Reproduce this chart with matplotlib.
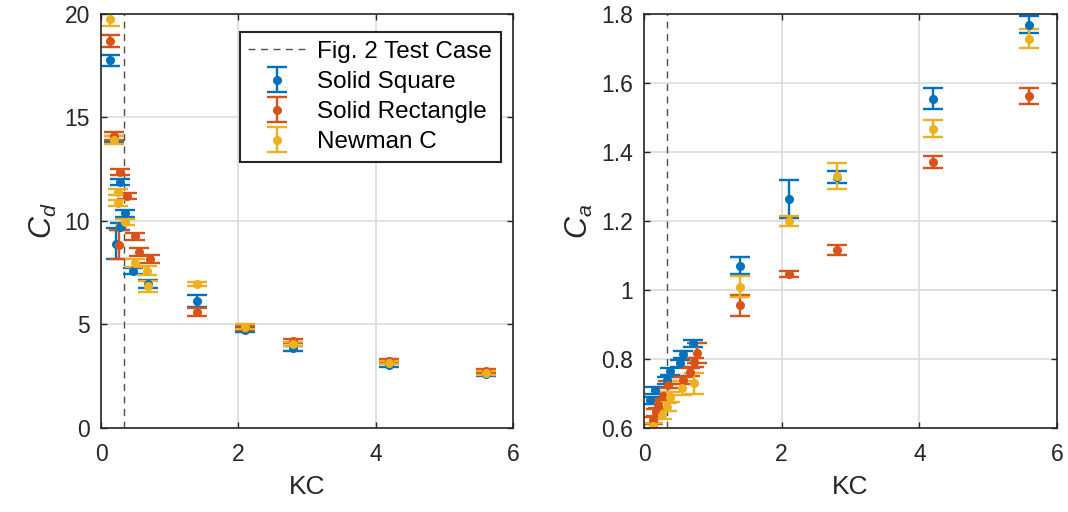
import matplotlib.pyplot as plt
from matplotlib.lines import Line2D

plt.rcParams['font.family'] = ['Liberation Sans', 'DejaVu Sans']
plt.rcParams['mathtext.fontset'] = 'custom'
plt.rcParams['mathtext.rm'] = 'Liberation Sans'
plt.rcParams['mathtext.it'] = 'Liberation Sans:italic'

# series colours (MATLAB defaults)
c_sq = '#0072BD'
c_re = '#D95319'
c_nc = '#EDB120'

test_kc = 0.33

# ---- drag coefficient, Cd ----
kc_sq_cd = [0.13, 0.19, 0.22, 0.28, 0.28, 0.35, 0.47, 0.68, 1.40, 2.10, 2.80, 4.20, 5.60]
cd_sq = [17.75, 13.95, 8.9, 11.87, 9.73, 10.36, 7.6, 6.95, 6.13, 4.75, 3.85, 3.05, 2.6]
cd_sq_err = [0.25, 0.15, 0.75, 0.15, 0.15, 0.15, 0.15, 0.2, 0.27, 0.1, 0.12, 0.08, 0.08]

kc_re_cd = [0.13, 0.19, 0.26, 0.28, 0.38, 0.50, 0.55, 0.71, 1.40, 2.10, 2.80, 4.20, 5.60]
cd_re = [18.69, 14.1, 8.86, 12.36, 11.2, 9.25, 8.5, 8.17, 5.6, 4.85, 4.2, 3.25, 2.75]
cd_re_err = [0.3, 0.2, 0.7, 0.15, 0.15, 0.15, 0.2, 0.2, 0.2, 0.1, 0.1, 0.08, 0.08]

kc_nc_cd = [0.13, 0.19, 0.25, 0.25, 0.35, 0.50, 0.67, 0.68, 1.40, 2.10, 2.80, 4.20, 5.60]
cd_nc = [19.76, 13.9, 11.39, 10.85, 9.93, 7.98, 7.6, 6.85, 6.96, 4.9, 4.05, 3.15, 2.65]
cd_nc_err = [0.34, 0.2, 0.15, 0.15, 0.15, 0.2, 0.2, 0.27, 0.11, 0.1, 0.1, 0.08, 0.08]

# ---- added mass coefficient, Ca ----
kc_sq_ca = [0.09, 0.16, 0.33, 0.38, 0.52, 0.57, 0.71, 1.40, 2.10, 2.80, 4.20, 5.60]
ca_sq = [0.681, 0.71, 0.739, 0.765, 0.788, 0.814, 0.846, 1.07, 1.264, 1.327, 1.554, 1.768]
ca_sq_err = [0.01, 0.01, 0.01, 0.01, 0.01, 0.01, 0.01, 0.025, 0.055, 0.018, 0.03, 0.025]

kc_re_ca = [0.13, 0.18, 0.20, 0.28, 0.35, 0.57, 0.67, 0.72, 0.77, 1.40, 2.10, 2.80, 4.20, 5.60]
ca_re = [0.623, 0.646, 0.667, 0.693, 0.725, 0.739, 0.762, 0.79, 0.817, 0.955, 1.046, 1.116, 1.371, 1.562]
ca_re_err = [0.01, 0.01, 0.01, 0.01, 0.01, 0.01, 0.012, 0.012, 0.03, 0.03, 0.008, 0.015, 0.018, 0.022]

kc_nc_ca = [0.13, 0.26, 0.33, 0.38, 0.55, 0.72, 1.40, 2.10, 2.80, 4.20, 5.60]
ca_nc = [0.605, 0.638, 0.661, 0.69, 0.715, 0.73, 1.01, 1.2, 1.33, 1.467, 1.728]
ca_nc_err = [0.01, 0.012, 0.012, 0.015, 0.02, 0.03, 0.03, 0.015, 0.038, 0.024, 0.028]

fig = plt.figure(figsize=(10.68, 5.12), dpi=100)
ax1 = fig.add_axes([0.0946, 0.164, 0.3858, 0.809])
ax2 = fig.add_axes([0.603, 0.164, 0.3867, 0.809])

eb = dict(fmt='o', markersize=5.5, elinewidth=1.7, capsize=7, capthick=1.7)


def style(ax):
    ax.set_xlim(0, 6)
    ax.set_xticks([0, 2, 4, 6])
    ax.grid(True, color='#dcdcdc', linewidth=1.2)
    ax.set_axisbelow(True)
    ax.tick_params(direction='in', length=4, width=1, labelsize=16.5,
                   top=True, right=True, colors='0.15')
    ax.tick_params(axis='x', pad=11)
    ax.tick_params(axis='y', pad=8)
    for s in ax.spines.values():
        s.set_color('0.15')
        s.set_linewidth(1.2)
    ax.set_xlabel('KC', fontsize=19, color='0.15', labelpad=6)


# left panel
ax1.axvline(test_kc, color='0.3', linestyle=(0, (5, 4)), linewidth=1)
h_sq = ax1.errorbar(kc_sq_cd, cd_sq, yerr=cd_sq_err, color=c_sq, **eb)
h_re = ax1.errorbar(kc_re_cd, cd_re, yerr=cd_re_err, color=c_re, **eb)
h_nc = ax1.errorbar(kc_nc_cd, cd_nc, yerr=cd_nc_err, color=c_nc, **eb)
style(ax1)
ax1.set_ylim(0, 20)
ax1.set_yticks([0, 5, 10, 15, 20])
ax1.set_ylabel('$C_d$', fontsize=22, color='0.15', labelpad=4)

dash_handle = Line2D([], [], color='0.3', linestyle=(0, (5, 4)), linewidth=1)
leg = ax1.legend([dash_handle, h_sq, h_re, h_nc],
                 ['Fig. 2 Test Case', 'Solid Square', 'Solid Rectangle', 'Newman C'],
                 loc='upper right', bbox_to_anchor=(0.97, 0.955), fontsize=17.5,
                 fancybox=False, framealpha=1, edgecolor='0.15',
                 handlelength=2.4, handletextpad=0.45, labelspacing=0.33,
                 borderpad=0.35, borderaxespad=0)
leg.get_frame().set_linewidth(1.5)

# right panel
ax2.axvline(test_kc, color='0.3', linestyle=(0, (5, 4)), linewidth=1)
ax2.errorbar(kc_sq_ca, ca_sq, yerr=ca_sq_err, color=c_sq, **eb)
ax2.errorbar(kc_re_ca, ca_re, yerr=ca_re_err, color=c_re, **eb)
ax2.errorbar(kc_nc_ca, ca_nc, yerr=ca_nc_err, color=c_nc, **eb)
style(ax2)
ax2.set_ylim(0.6, 1.8)
ca_ticks = [0.6, 0.8, 1.0, 1.2, 1.4, 1.6, 1.8]
ax2.set_yticks(ca_ticks)
ax2.set_yticklabels(['0.6', '0.8', '1', '1.2', '1.4', '1.6', '1.8'])
ax2.set_ylabel('$C_a$', fontsize=22, color='0.15', labelpad=4)

fig.savefig('out.png', dpi=100)
